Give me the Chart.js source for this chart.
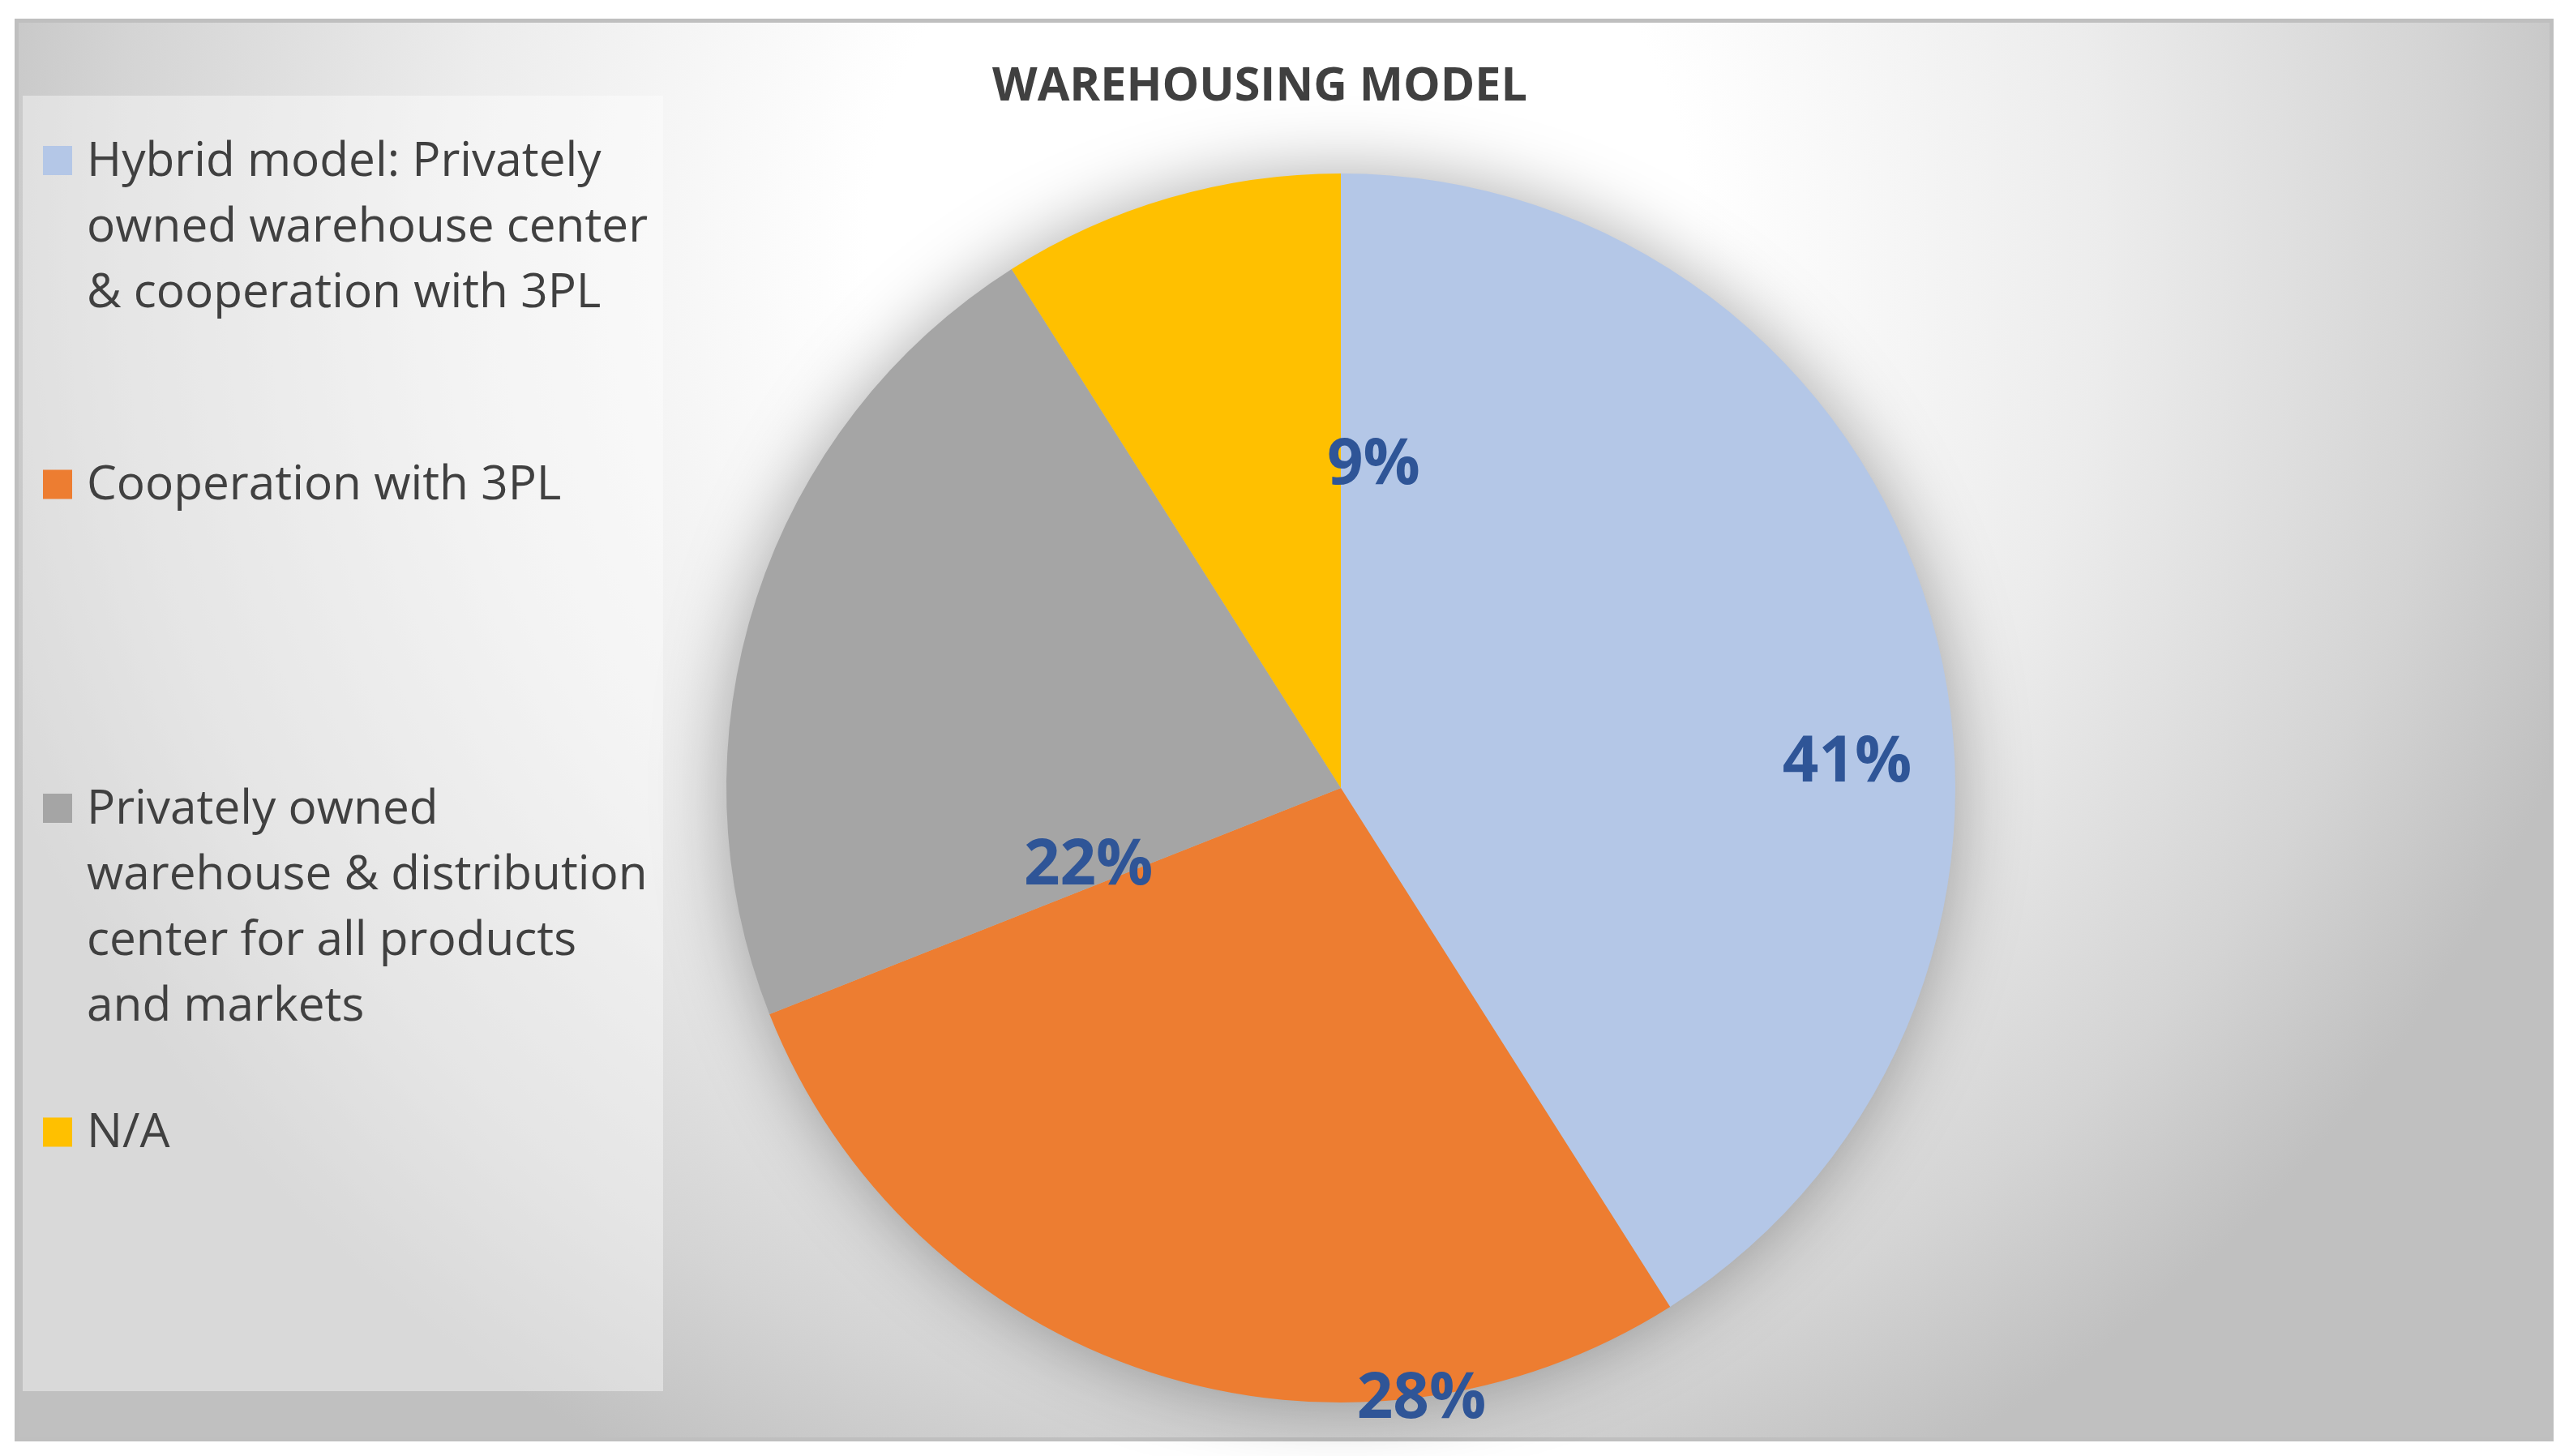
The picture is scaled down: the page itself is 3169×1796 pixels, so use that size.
<!DOCTYPE html>
<html><head><meta charset="utf-8">
<script src="https://cdn.jsdelivr.net/npm/chart.js@4.4.1/dist/chart.umd.min.js"></script>
<style>html,body{margin:0;padding:0;background:#fff;overflow:hidden}canvas{display:block}</style>
</head><body>
<canvas id="c" width="3169" height="1796"></canvas>
<script>
// ---------- data ----------
const chartTitle = "WAREHOUSING MODEL";
const categories = [
  ["Hybrid model: Privately", "owned warehouse center", "& cooperation with 3PL"],
  ["Cooperation with 3PL"],
  ["Privately owned", "warehouse & distribution", "center for all products", "and markets"],
  ["N/A"]
];
const shares = [41, 28, 22, 9];
const sliceColors = ["#B4C7E7", "#ED7D31", "#A5A5A5", "#FFC000"];
// data-label placement (polar, relative to the pie drawn by Chart.js)
const labelAngles = [87.2, 172.5, 252.8, 5.8];   // degrees clockwise from 12 o'clock
const labelRadii  = [0.825, 1.005, 0.43, 0.527]; // fraction of outer radius

// ---------- layout / style ----------
const FRAME = {x0: 18, y0: 23, x1: 3150, y1: 1778, bw: 5};
const LEGEND = {x0: 28, y0: 118, x1: 818, y1: 1716, markX: 53, mark: 36, textX: 107, first: 80, lineH: 81};
const FONT = '"Open Sans", "Noto Sans", sans-serif';

const framePlugin = {
  id: 'frame',
  beforeDraw(chart) {
    const ctx = chart.ctx;
    ctx.save();
    ctx.fillStyle = '#ffffff';
    ctx.fillRect(0, 0, chart.width, chart.height);
    const g = ctx.createRadialGradient(1580, 300, 0, 1580, 300, 1700);
    g.addColorStop(0, '#ffffff');
    g.addColorStop(0.3, '#ffffff');
    g.addColorStop(0.6, '#ececec');
    g.addColorStop(0.85, '#d4d4d4');
    g.addColorStop(1, '#c0c0c0');
    ctx.fillStyle = g;
    ctx.fillRect(FRAME.x0, FRAME.y0, FRAME.x1 - FRAME.x0, FRAME.y1 - FRAME.y0);
    ctx.lineWidth = FRAME.bw;
    ctx.strokeStyle = '#bfbfbf';
    ctx.strokeRect(FRAME.x0 + FRAME.bw / 2, FRAME.y0 + FRAME.bw / 2,
                   FRAME.x1 - FRAME.x0 - FRAME.bw, FRAME.y1 - FRAME.y0 - FRAME.bw);
    // legend panel
    ctx.fillStyle = 'rgba(255,255,255,0.4)';
    ctx.fillRect(LEGEND.x0, LEGEND.y0, LEGEND.x1 - LEGEND.x0, LEGEND.y1 - LEGEND.y0);
    // title
    ctx.fillStyle = '#404040';
    ctx.font = 'bold 57.5px ' + FONT;
    ctx.textAlign = 'center';
    ctx.textBaseline = 'middle';
    ctx.fillText(chartTitle, 1554, 108);
    ctx.restore();
  },
  beforeDatasetsDraw(chart) {
    // soft shadow under the pie, using the pie geometry computed by Chart.js
    const arc = chart.getDatasetMeta(0).data[0];
    if (!arc) return;
    const ctx = chart.ctx;
    ctx.save();
    ctx.shadowColor = 'rgba(0,0,0,0.35)';
    ctx.shadowBlur = 90;
    ctx.fillStyle = '#bbbbbb';
    ctx.beginPath();
    ctx.arc(arc.x, arc.y, arc.outerRadius - 2, 0, Math.PI * 2);
    ctx.fill();
    ctx.restore();
  },
  afterDatasetsDraw(chart) {
    const ctx = chart.ctx;
    const meta = chart.getDatasetMeta(0);
    ctx.save();
    ctx.fillStyle = '#2F5597';
    ctx.font = 'bold 78px ' + FONT;
    ctx.textAlign = 'center';
    ctx.textBaseline = 'middle';
    meta.data.forEach((arc, i) => {
      const a = labelAngles[i] * Math.PI / 180;
      const r = arc.outerRadius * labelRadii[i];
      ctx.fillText(chart.data.datasets[0].data[i] + '%', arc.x + r * Math.sin(a), arc.y - r * Math.cos(a));
    });
    ctx.restore();
  },
  afterDraw(chart) {
    // legend
    const ctx = chart.ctx;
    const labels = chart.data.labels;
    const colors = chart.data.datasets[0].backgroundColor;
    const slot = (LEGEND.y1 - LEGEND.y0) / labels.length;
    ctx.save();
    ctx.font = '58.5px ' + FONT;
    ctx.textAlign = 'left';
    ctx.textBaseline = 'middle';
    labels.forEach((lines, i) => {
      const cy = LEGEND.y0 + slot * i + LEGEND.first;
      ctx.fillStyle = colors[i];
      ctx.fillRect(LEGEND.markX, cy - LEGEND.mark / 2, LEGEND.mark, LEGEND.mark);
      ctx.fillStyle = '#404040';
      lines.forEach((ln, k) => ctx.fillText(ln, LEGEND.textX, cy + 2 + k * LEGEND.lineH));
    });
    ctx.restore();
  }
};

new Chart(document.getElementById('c'), {
  type: 'pie',
  data: {
    labels: categories,
    datasets: [{
      data: shares,
      backgroundColor: sliceColors,
      borderWidth: 0,
      hoverOffset: 0
    }]
  },
  options: {
    responsive: false,
    animation: false,
    devicePixelRatio: 1,
    events: [],
    layout: {padding: {left: 896, right: 757, top: 214, bottom: 66}},
    plugins: {legend: {display: false}, title: {display: false}, tooltip: {enabled: false}}
  },
  plugins: [framePlugin]
});
</script>
</body></html>
